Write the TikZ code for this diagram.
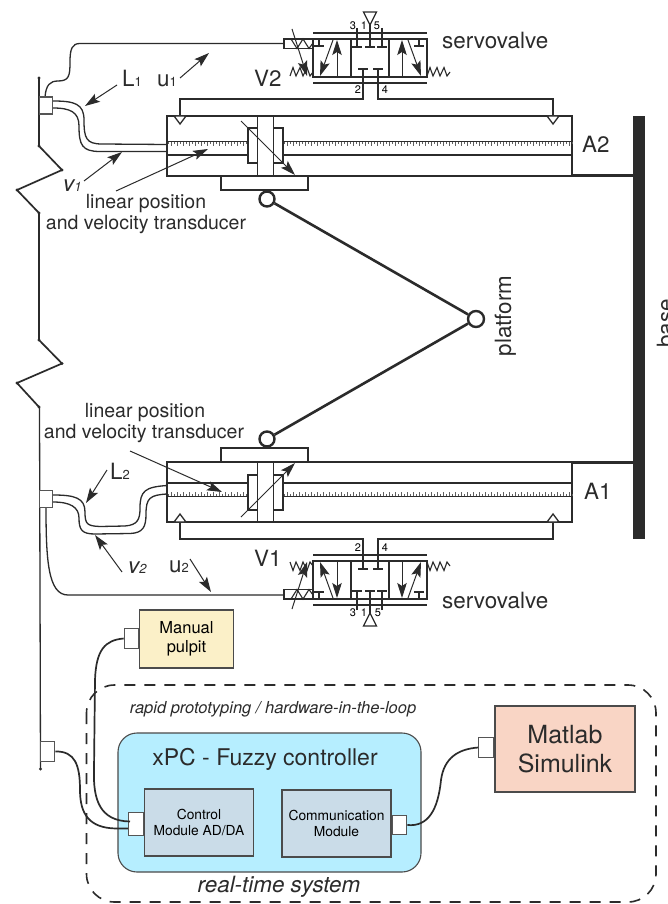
\documentclass[tikz,border=0pt]{standalone}
\usepackage{fontspec}
\setmainfont{TeX Gyre Heros}
\usetikzlibrary{arrows.meta}
\definecolor{ink}{HTML}{2B2B2B}
\newcommand{\subn}[1]{{\fontsize{13}{15}\selectfont\upshape #1}}
\tikzset{
  x=1pt,y=-1pt,
  every path/.style={ink},
  thin line/.style={draw=ink,line width=1.1pt},
  med line/.style={draw=ink,line width=1.3pt},
  thick bar/.style={draw=ink,line width=2pt},
  link/.style={draw=ink,line width=2.6pt},
  cable/.style={draw=ink,line width=1.3pt},
  wire/.style={draw=ink,line width=1.7pt},
  pointer/.style={draw=ink,line width=1pt,-{Stealth[length=15pt,width=9.5pt,inset=3pt]}},
  portbox/.style={draw=ink!80,line width=1.2pt,fill=white},
  txt/.style={text=ink,inner sep=0pt,align=center,font=\fontsize{19.5}{23}\selectfont},
  big/.style={text=ink,inner sep=0pt,anchor=base west,font=\fontsize{22.4}{26}\selectfont},
  num/.style={text=black,inner sep=0pt,font=\fontsize{11}{13}\selectfont},
  ball/.style={draw=ink,line width=2.4pt,fill=white},
  joint/.style={fill=ink},
}
\newcommand{\tbar}[3]{\draw[med line] (#1,#2) -- (#1,#3); \draw[med line] (#1-5,#3) -- (#1+5,#3);}
\newcommand{\actuator}{%
  % cylinder
  \draw[med line] (167,116) rectangle (572,176);
  \draw[thin line] (167,155) -- (248,155) (283,155) -- (572,155);
  \foreach \i in {0,...,26} {\draw[ink!75,line width=0.35pt] ({168+3*\i},142) -- ({168+3*\i},{144.5+mod(\i,2)*1.5});}
  \foreach \i in {0,...,96} {\draw[ink!75,line width=0.35pt] ({284+3*\i},142) -- ({284+3*\i},{144.5+mod(\i,2)*1.5});}
  \draw[draw=ink,line width=1pt] (167,142) -- (248,142) (283,142) -- (572,142);
  \draw[med line,fill=white] (248,128) rectangle (283,163);
  \draw[med line,fill=white] (257.5,116) rectangle (273.5,176);
  \draw[med line,fill=white] (221,176) rectangle (308,190);
  \draw[pointer] (241,121) -- (295,175);
  % pipes to the valve
  \draw[med line] (180,122) -- (180,99) -- (363,99) -- (363,69);
  \draw[med line] (378,69) -- (378,99) -- (553,99) -- (553,122);
  \draw[med line,fill=white] (174,116) -- (186,116) -- (180,124) -- cycle;
  \draw[med line,fill=white] (547,116) -- (559,116) -- (553,124) -- cycle;
  % servovalve
  \draw[thick bar] (313,33) -- (427,33) (313,83) -- (427,83);
  \draw[med line] (313,39) rectangle (427,77);
  \draw[med line] (351,39) -- (351,77) (389,39) -- (389,77);
  \draw[med line,fill=white] (284,39) rectangle (313,48.5);
  \draw[thin line] (291,39) -- (297,48.5) -- (303,39) -- (309,48.5) -- (313,43);
  \tbar{319}{39}{46}
  \tbar{419}{39}{46}
  \tbar{357}{28}{47}
  \tbar{370}{25}{47}
  \tbar{382}{28}{47}
  \draw[med line,fill=white] (363.5,12) -- (376.5,12) -- (370,25) -- cycle;
  \draw[med line] (358,69) -- (368,69) (373,69) -- (383,69);
  \draw[pointer] (333,40) -- (320,76);
  \draw[pointer] (337,77) -- (337,40);
  \draw[pointer] (402,77) -- (402,40);
  \draw[pointer] (408,40) -- (421,76);
  \draw[thin line] (290,76) -- (293,67.5) -- (296,76) -- (300,67.5) -- (303,76) -- (307,67.5) -- (310,76) -- (313,72);
  \draw[thin line] (427,76) -- (430,67.5) -- (433,76) -- (437,67.5) -- (440,76) -- (444,67.5) -- (447,76) -- (450,72);
  \draw[pointer] (292,29) -- (307,76);
}
\begin{document}
\begin{tikzpicture}
\useasboundingbox (0,0) rectangle (667,904);
\fill[white] (0,0) rectangle (667,904);

% left frame line
\draw[wire,line cap=round,line join=round] (39,78) -- (39,146) -- (62,170) -- (17,190) -- (39,213) -- (39,340) -- (62,363.5) -- (17,383) -- (39,407);
\draw[med line,line cap=round] (39.5,407) -- (40.5,769);
\foreach \px/\py in {39/78,39/146,62/170,17/190,39/213,39/340,62/363.5,17/383,39/407,40.5/769}
  \fill[joint] (\px,\py) circle (1.7pt);

% base and platform
\fill[ink] (633,116) rectangle (645,539);
\draw[thick bar,line width=2.6pt] (571,175.5) -- (633,175.5) (571,462.5) -- (633,462.5);
\node[ball,circle,minimum size=15pt,inner sep=0pt] (upperball) at (267,199) {};
\node[ball,circle,minimum size=15pt,inner sep=0pt] (lowerball) at (267,439) {};
\node[ball,circle,minimum size=16pt,inner sep=0pt] (platformball) at (476,319) {};
\draw[link] (upperball) -- (platformball);
\draw[link] (lowerball) -- (platformball);

% actuators
\actuator
\begin{scope}[shift={(0,638)},yscale=-1]
\actuator
\end{scope}

% top cabling
\draw[cable] (53,101) .. controls (75,101) and (84,104) .. (84,120) .. controls (84,138) and (86,144) .. (102,144) -- (167,144.5);
\draw[cable] (53,108) .. controls (70,108) and (79,112) .. (79,126) .. controls (79,145) and (82,151.5) .. (100,151.5) -- (167,151.5);
\draw[med line] (45,97) .. controls (46,85) and (50,81) .. (58,81) .. controls (69,81) and (70,76) .. (70,62) .. controls (70,49) and (72,43.5) .. (80,43.5) -- (284,43.5);
\node[portbox,minimum width=13pt,minimum height=17pt,inner sep=0pt] (portone) at (46,105.5) {};
\draw[pointer] (117,85) -- (85,106);
\draw[pointer] (180,78) -- (209,53);
\draw[pointer] (84,181) -- (122,152);
\draw[pointer] (116,191) -- (208,149);

% lower cabling
\draw[cable] (53,495) .. controls (75,495) and (85,498) .. (85,512) .. controls (85,524) and (87,526) .. (100,526.5) -- (125,526) .. controls (138,525) and (140,519) .. (140,508) .. controls (140,491) and (145,487) .. (167,485.5);
\draw[cable] (53,502) .. controls (70,502) and (79,507) .. (79,518) .. controls (79,530) and (82,534) .. (95,534) -- (130,533.5) .. controls (143,533) and (146,527) .. (146,514) .. controls (146,498) and (150,495) .. (167,494);
\draw[med line] (46,507) .. controls (46,560) and (48,595) .. (68,595) -- (284,595);
\node[portbox,minimum width=13pt,minimum height=17pt,inner sep=0pt] (porttwo) at (46,499) {};
\draw[pointer] (107,470) -- (86,503);
\draw[pointer] (122,572) -- (95,535);
\draw[pointer] (190,559) -- (211,592);
\draw[pointer] (130,451) -- (222,492);

% control section
\draw[draw=ink,line width=1.6pt,dash pattern=on 11pt off 9pt,rounded corners=28pt] (86.5,685) rectangle (656,902);
\node[draw=ink!85,line width=1.1pt,fill={rgb,255:red,182;green,238;blue,255},rounded corners=19pt,minimum width=303pt,minimum height=139pt,inner sep=0pt] (xpc) at (269.5,802.5) {};
\node[draw=ink!85,line width=1.3pt,fill={rgb,255:red,202;green,220;blue,232},minimum width=109pt,minimum height=67pt,inner sep=0pt,align=center,text=black,font=\fontsize{13.8}{16}\selectfont] (ctrl) at (199,822.5) {Control\\Module AD/DA};
\node[draw=ink!85,line width=1.3pt,fill={rgb,255:red,202;green,220;blue,232},minimum width=109pt,minimum height=67pt,inner sep=0pt,align=center,text=black,font=\fontsize{13.8}{16}\selectfont] (comm) at (336.5,823.5) {Communication\\Module};
\node[draw=ink!85,line width=1.2pt,fill={rgb,255:red,251;green,240;blue,200},minimum width=94pt,minimum height=58pt,inner sep=0pt,align=center,text=black,font=\fontsize{16.5}{19}\selectfont] (pulpit) at (186.5,639) {Manual\\pulpit};
\node[draw=ink!85,line width=1.2pt,fill={rgb,255:red,249;green,213;blue,197},minimum width=140pt,minimum height=86pt,inner sep=0pt,align=center,text=ink,font=\fontsize{25}{29}\selectfont] (matlab) at (565,749) {Matlab\\Simulink};

\node[portbox,minimum width=14pt,minimum height=19.5pt,inner sep=0pt,anchor=east] (pp) at (pulpit.west |- 0,638.5) {};
\node[portbox,minimum width=14.5pt,minimum height=22.5pt,inner sep=0pt,anchor=east] (cp) at (ctrl.west |- 0,824) {};
\node[portbox,minimum width=14.5pt,minimum height=19.5pt,inner sep=0pt,anchor=west] (op) at (comm.east |- 0,825) {};
\node[portbox,minimum width=15pt,minimum height=19.5pt,inner sep=0pt,anchor=east] (mp) at (matlab.west |- 0,747.5) {};
\node[portbox,minimum width=14.5pt,minimum height=19.5pt,inner sep=0pt] (lp) at (47.5,751.5) {};
\draw[wire] (pp.west) .. controls (105,640) and (96,650) .. (95,680) -- (94,770) .. controls (93,800) and (100,821) .. (130,821.5);
\draw[wire] (lp.east) .. controls (75,751) and (80,765) .. (80,790) .. controls (80,815) and (90,828) .. (116,828.5) -- (cp.west |- 0,828.5);
\draw[wire] (op.east) .. controls (428,827) and (438,810) .. (441,780) .. controls (444,758) and (458,749) .. (mp.west);

% texts
\node[big] (servoa) at (442,49) {servovalve};
\node[big] (servob) at (442,608) {servovalve};
\node[big] (vtwo) at (254,87) {V2};
\node[big] (vone) at (254,566) {V1};
\node[big] (atwo) at (582,153) {A2};
\node[big] (aone) at (584,499) {A1};
\node[big] (lone) at (122,87) {L\subn{1}};
\node[big] (ltwo) at (110,479) {L\subn{2}};
\node[big] (uone) at (157,87) {u\subn{1}};
\node[big] (utwo) at (169,572) {u\subn{2}};
\node[big] (vvone) at (63,191) {\itshape v{\fontsize{13}{15}\selectfont 1}};
\node[big] (vvtwo) at (128,573) {\itshape v{\fontsize{13}{15}\selectfont 2}};
\node[txt] (transa) at (146,204) {linear position};
\node[txt] (transb) at (146,225) {and velocity transducer};
\node[txt] (transc) at (145,413) {linear position};
\node[txt] (transd) at (144,434) {and velocity transducer};
\node[big,anchor=base,rotate=90] (plat) at (511,316) {platform};
\node[big,anchor=base,rotate=90] (basetxt) at (673,323.5) {base};
\node[num] at (353,26) {3};
\node[num] at (364,26) {1};
\node[num] at (377,26) {5};
\node[num] at (358,90) {2};
\node[num] at (385,90) {4};
\node[num] at (353,613) {3};
\node[num] at (364,613) {1};
\node[num] at (378,613) {5};
\node[num] at (358,548) {2};
\node[num] at (385,548) {4};
\node[text=ink,inner sep=0pt,font=\fontsize{16.5}{20}\selectfont\itshape] (rapid) at (273,709) {rapid prototyping / hardware-in-the-loop};
\node[text=ink,inner sep=0pt,font=\fontsize{23}{27}\selectfont] (xpctitle) at (265,759) {xPC - Fuzzy controller};
\node[text=ink,inner sep=0pt,font=\fontsize{22.4}{26}\selectfont\itshape] (realtime) at (279,887) {real-time system};
\end{tikzpicture}
\end{document}
